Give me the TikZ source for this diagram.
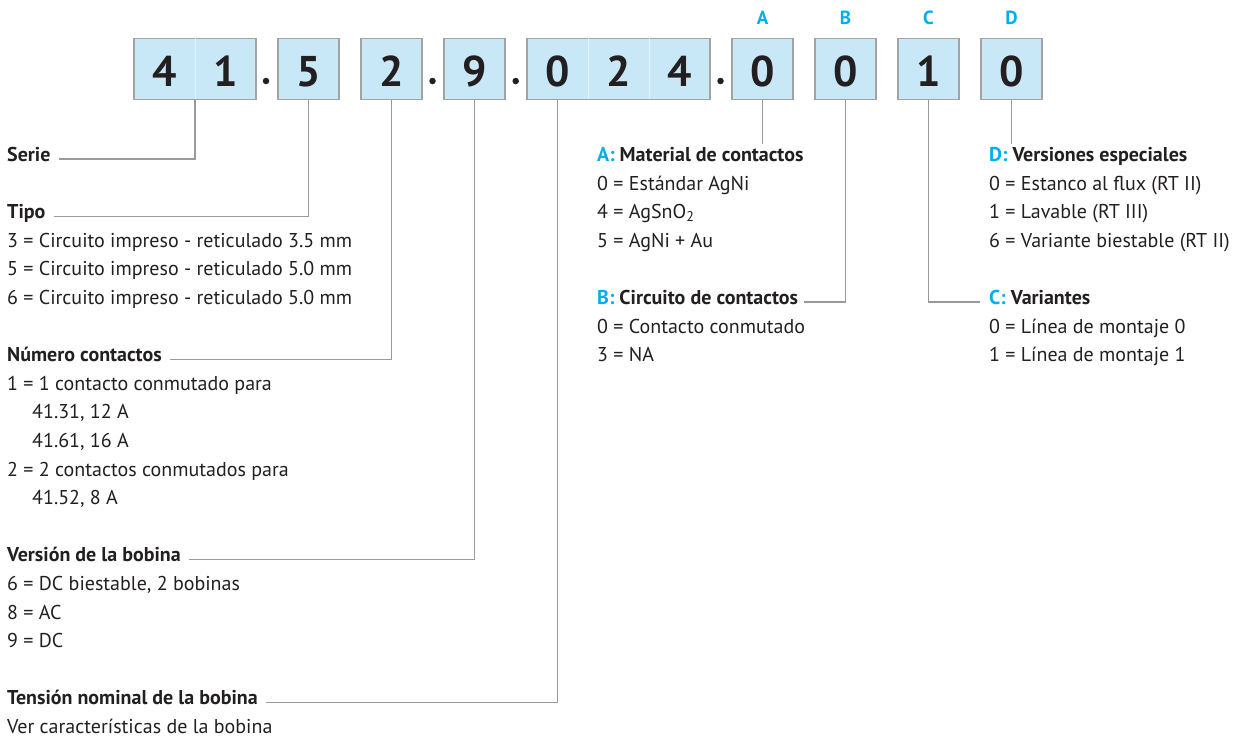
\documentclass[tikz,border=0pt]{standalone}
\usepackage{fontspec}
\setmainfont{PT Sans}
\definecolor{boxfill}{HTML}{C8E8F8}
\definecolor{boxline}{HTML}{A3A3A3}
\definecolor{cyanA}{HTML}{00AEEF}
\definecolor{ink}{HTML}{231F20}
\definecolor{conncol}{HTML}{9A9A9A}
\newcommand\cellDigit[1]{\makebox[61pt]{#1}}
\begin{document}
\begin{tikzpicture}[x=1pt,y=-1pt,
  cell/.style={draw=boxline, fill=boxfill, line width=1.3pt, minimum height=61pt, inner sep=0pt,
    text height=36pt, text depth=0pt, font=\fontsize{43}{43}\bfseries, text=ink},
  sepdot/.style={circle, fill=ink, inner sep=0pt, minimum size=6.5pt},
  letter/.style={font=\fontsize{19}{19}\bfseries, text=cyanA, inner sep=0pt},
  head/.style={anchor=base west, inner sep=0pt, font=\fontsize{20}{20}\bfseries, text=ink},
  item/.style={anchor=base west, inner sep=0pt, font=\fontsize{20}{20}\selectfont, text=ink},
  conn/.style={draw=conncol, line width=1.1pt},
  divider/.style={draw=white!50!boxfill, line width=1pt, shorten <=0.7pt, shorten >=0.7pt}
]
\useasboundingbox (0,0) rectangle (1236,742);

% code boxes
\node[cell, minimum width=122pt] (c41) at (195,68.65) {\cellDigit{4}\cellDigit{1}};
\node[cell, minimum width=61pt] (c5) at (308.5,68.65) {\cellDigit{5}};
\node[cell, minimum width=61pt] (c2) at (391.5,68.65) {\cellDigit{2}};
\node[cell, minimum width=61pt] (c9) at (474.5,68.65) {\cellDigit{9}};
\node[cell, minimum width=183pt] (c024) at (618.5,68.65) {\cellDigit{0}\cellDigit{2}\cellDigit{4}};
\node[cell, minimum width=61pt] (cA) at (762.5,68.65) {\cellDigit{0}};
\node[cell, minimum width=61pt] (cB) at (845.5,68.65) {\cellDigit{0}};
\node[cell, minimum width=61pt] (cC) at (928.5,68.65) {\cellDigit{1}};
\node[cell, minimum width=61pt] (cD) at (1011.5,68.65) {\cellDigit{0}};

\draw[divider] (c41.north) -- (c41.south);
\draw[divider] ([xshift=-30.5pt]c024.north) -- ([xshift=-30.5pt]c024.south);
\draw[divider] ([xshift=30.5pt]c024.north) -- ([xshift=30.5pt]c024.south);

% separating dots
\node[sepdot] (p1) at (266,81) {};
\node[sepdot] (p2) at (432.5,81) {};
\node[sepdot] (p3) at (515.7,81) {};
\node[sepdot] (p4) at (720.5,81) {};

% letters
\node[letter] (lA) at (762.5,18) {A};
\node[letter] (lB) at (845.5,18) {B};
\node[letter] (lC) at (928.5,18) {C};
\node[letter] (lD) at (1011.5,18) {D};

% left column
\node[head] (serie) at (7,161.5) {Serie};
\node[head] (tipo) at (7,218.7) {Tipo};
\node[item] (t3) at (7,247.3) {3 = Circuito impreso - reticulado 3.5 mm};
\node[item] (t5) at (7,275.9) {5 = Circuito impreso - reticulado 5.0 mm};
\node[item] (t6) at (7,304.5) {6 = Circuito impreso - reticulado 5.0 mm};
\node[head] (numero) at (7,361.7) {Número contactos};
\node[item] (n1) at (7,390.3) {1 = 1 contacto conmutado para};
\node[item] (n1a) at (32,418.9) {41.31, 12 A};
\node[item] (n1b) at (32,447.5) {41.61, 16 A};
\node[item] (n2) at (7,476.1) {2 = 2 contactos conmutados para};
\node[item] (n2a) at (32,504.7) {41.52, 8 A};
\node[head] (version) at (7,561.9) {Versión de la bobina};
\node[item] (v6) at (7,590.5) {6 = DC biestable, 2 bobinas};
\node[item] (v8) at (7,619.1) {8 = AC};
\node[item] (v9) at (7,647.7) {9 = DC};
\node[head] (tension) at (7,704.9) {Tensión nominal de la bobina};
\node[item] (ver) at (7,733.5) {Ver características de la bobina};

% A / B column
\node[head] (aH) at (597,161.5) {\textcolor{cyanA}{A:} Material de contactos};
\node[item] (a0) at (597,190.1) {0 = Estándar AgNi};
\node[item] (a4) at (597,218.7) {4 = AgSnO\textsubscript{2}};
\node[item] (a5) at (597,247.3) {5 = AgNi + Au};
\node[head] (bH) at (597,304.5) {\textcolor{cyanA}{B:} Circuito de contactos};
\node[item] (b0) at (597,333.1) {0 = Contacto conmutado};
\node[item] (b3) at (597,361.7) {3 = NA};

% D / C column
\node[head] (dH) at (989,161.5) {\textcolor{cyanA}{D:} Versiones especiales};
\node[item] (d0) at (989,190.1) {0 = Estanco al flux (RT II)};
\node[item] (d1) at (989,218.7) {1 = Lavable (RT III)};
\node[item] (d6) at (989,247.3) {6 = Variante biestable (RT II)};
\node[head] (cH) at (989,304.5) {\textcolor{cyanA}{C:} Variantes};
\node[item] (cc0) at (989,333.1) {0 = Línea de montaje 0};
\node[item] (cc1) at (989,361.7) {1 = Línea de montaje 1};

% connectors
\coordinate (aEnd) at (762.5,144);
\coordinate (dEnd) at (1011.5,144);
\draw[conn] (c41.south) |- ([xshift=8pt]serie.mid east);
\draw[conn] (c5.south) |- ([xshift=8pt]tipo.mid east);
\draw[conn] (c2.south) |- ([xshift=8pt]numero.mid east);
\draw[conn] (c9.south) |- ([xshift=8pt]version.mid east);
\draw[conn] ([xshift=-61pt]c024.south) |- ([xshift=8pt]tension.mid east);
\draw[conn] (cA.south) -- (aEnd);
\draw[conn] (cB.south) |- ([xshift=6pt]bH.mid east);
\draw[conn] (cC.south) |- ([xshift=-9pt]cH.mid west);
\draw[conn] (cD.south) -- (dEnd);
\end{tikzpicture}
\end{document}
